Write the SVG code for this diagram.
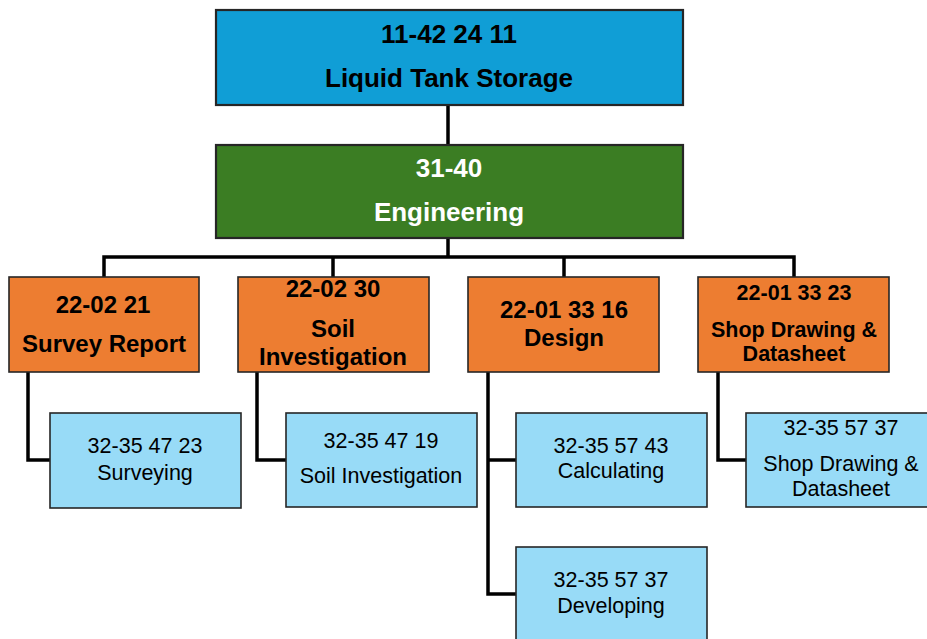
<svg xmlns="http://www.w3.org/2000/svg" width="927" height="639" viewBox="0 0 927 639">
  <style>
    .box { stroke: #262626; stroke-width: 1.6; }
    .top { fill: #109ed6; stroke-width: 2.2; }
    .eng { fill: #3b7d23; stroke-width: 2.2; }
    .phase { fill: #ed7d31; }
    .task { fill: #98dbf7; }
    .conn { fill: none; stroke: #000; stroke-width: 3.5; stroke-linejoin: miter; }
    text { font-family: "Liberation Sans", Arial, sans-serif; text-anchor: middle; fill: #000; }
    .b26 { font-size: 26px; font-weight: bold; }
    .b24 { font-size: 24px; font-weight: bold; }
    .b21 { font-size: 21.5px; font-weight: bold; }
    .r22 { font-size: 21.5px; }
    .white { fill: #fff; }
  </style>

  <!-- connectors -->
  <g id="connectors">
    <path class="conn" d="M448 105 V145"/>
    <path class="conn" d="M448 238 V257"/>
    <path class="conn" d="M104 277 V257 H794 V277"/>
    <path class="conn" d="M333 257 V277"/>
    <path class="conn" d="M564 257 V277"/>
    <path class="conn" d="M28 372 V460 H50"/>
    <path class="conn" d="M257 372 V460 H286"/>
    <path class="conn" d="M488 372 V594 H516"/>
    <path class="conn" d="M488 460 H516"/>
    <path class="conn" d="M718 372 V460 H746"/>
  </g>

  <!-- top level -->
  <g id="liquid-tank-storage">
    <rect class="box top" x="216" y="10" width="467" height="95"/>
    <text class="b26" x="449" y="43">11-42 24 11</text>
    <text class="b26" x="449" y="87">Liquid Tank Storage</text>
  </g>

  <g id="engineering">
    <rect class="box eng" x="216" y="145" width="467" height="93"/>
    <text class="b26 white" x="449" y="177">31-40</text>
    <text class="b26 white" x="449" y="221">Engineering</text>
  </g>

  <!-- phases -->
  <g id="survey-report">
    <rect class="box phase" x="9" y="277" width="190" height="95"/>
    <text class="b24" x="103" y="313">22-02 21</text>
    <text class="b24" x="104" y="352">Survey Report</text>
  </g>

  <g id="soil-investigation">
    <rect class="box phase" x="238" y="277" width="191" height="95"/>
    <text class="b24" x="333" y="297">22-02 30</text>
    <text class="b24" x="333" y="337">Soil</text>
    <text class="b24" x="333" y="365">Investigation</text>
  </g>

  <g id="design">
    <rect class="box phase" x="468" y="277" width="191" height="95"/>
    <text class="b24" x="564" y="318">22-01 33 16</text>
    <text class="b24" x="564" y="346">Design</text>
  </g>

  <g id="shop-drawing">
    <rect class="box phase" x="698" y="277" width="191" height="95"/>
    <text class="b21" x="794" y="300">22-01 33 23</text>
    <text class="b21" x="794" y="337">Shop Drawing &amp;</text>
    <text class="b21" x="794" y="361">Datasheet</text>
  </g>

  <!-- tasks -->
  <g id="surveying">
    <rect class="box task" x="50" y="413" width="191" height="95"/>
    <text class="r22" x="145" y="453">32-35 47 23</text>
    <text class="r22" x="145" y="480">Surveying</text>
  </g>

  <g id="soil-investigation-task">
    <rect class="box task" x="286" y="413" width="191" height="94"/>
    <text class="r22" x="381" y="448">32-35 47 19</text>
    <text class="r22" x="381" y="483">Soil Investigation</text>
  </g>

  <g id="calculating">
    <rect class="box task" x="516" y="413" width="191" height="94"/>
    <text class="r22" x="611" y="453">32-35 57 43</text>
    <text class="r22" x="611" y="478">Calculating</text>
  </g>

  <g id="shop-drawing-task">
    <rect class="box task" x="746" y="413" width="191" height="94"/>
    <text class="r22" x="841" y="435">32-35 57 37</text>
    <text class="r22" x="841" y="471">Shop Drawing &amp;</text>
    <text class="r22" x="841" y="496">Datasheet</text>
  </g>

  <g id="developing">
    <rect class="box task" x="516" y="547" width="191" height="100"/>
    <text class="r22" x="611" y="587">32-35 57 37</text>
    <text class="r22" x="611" y="613">Developing</text>
  </g>
</svg>
